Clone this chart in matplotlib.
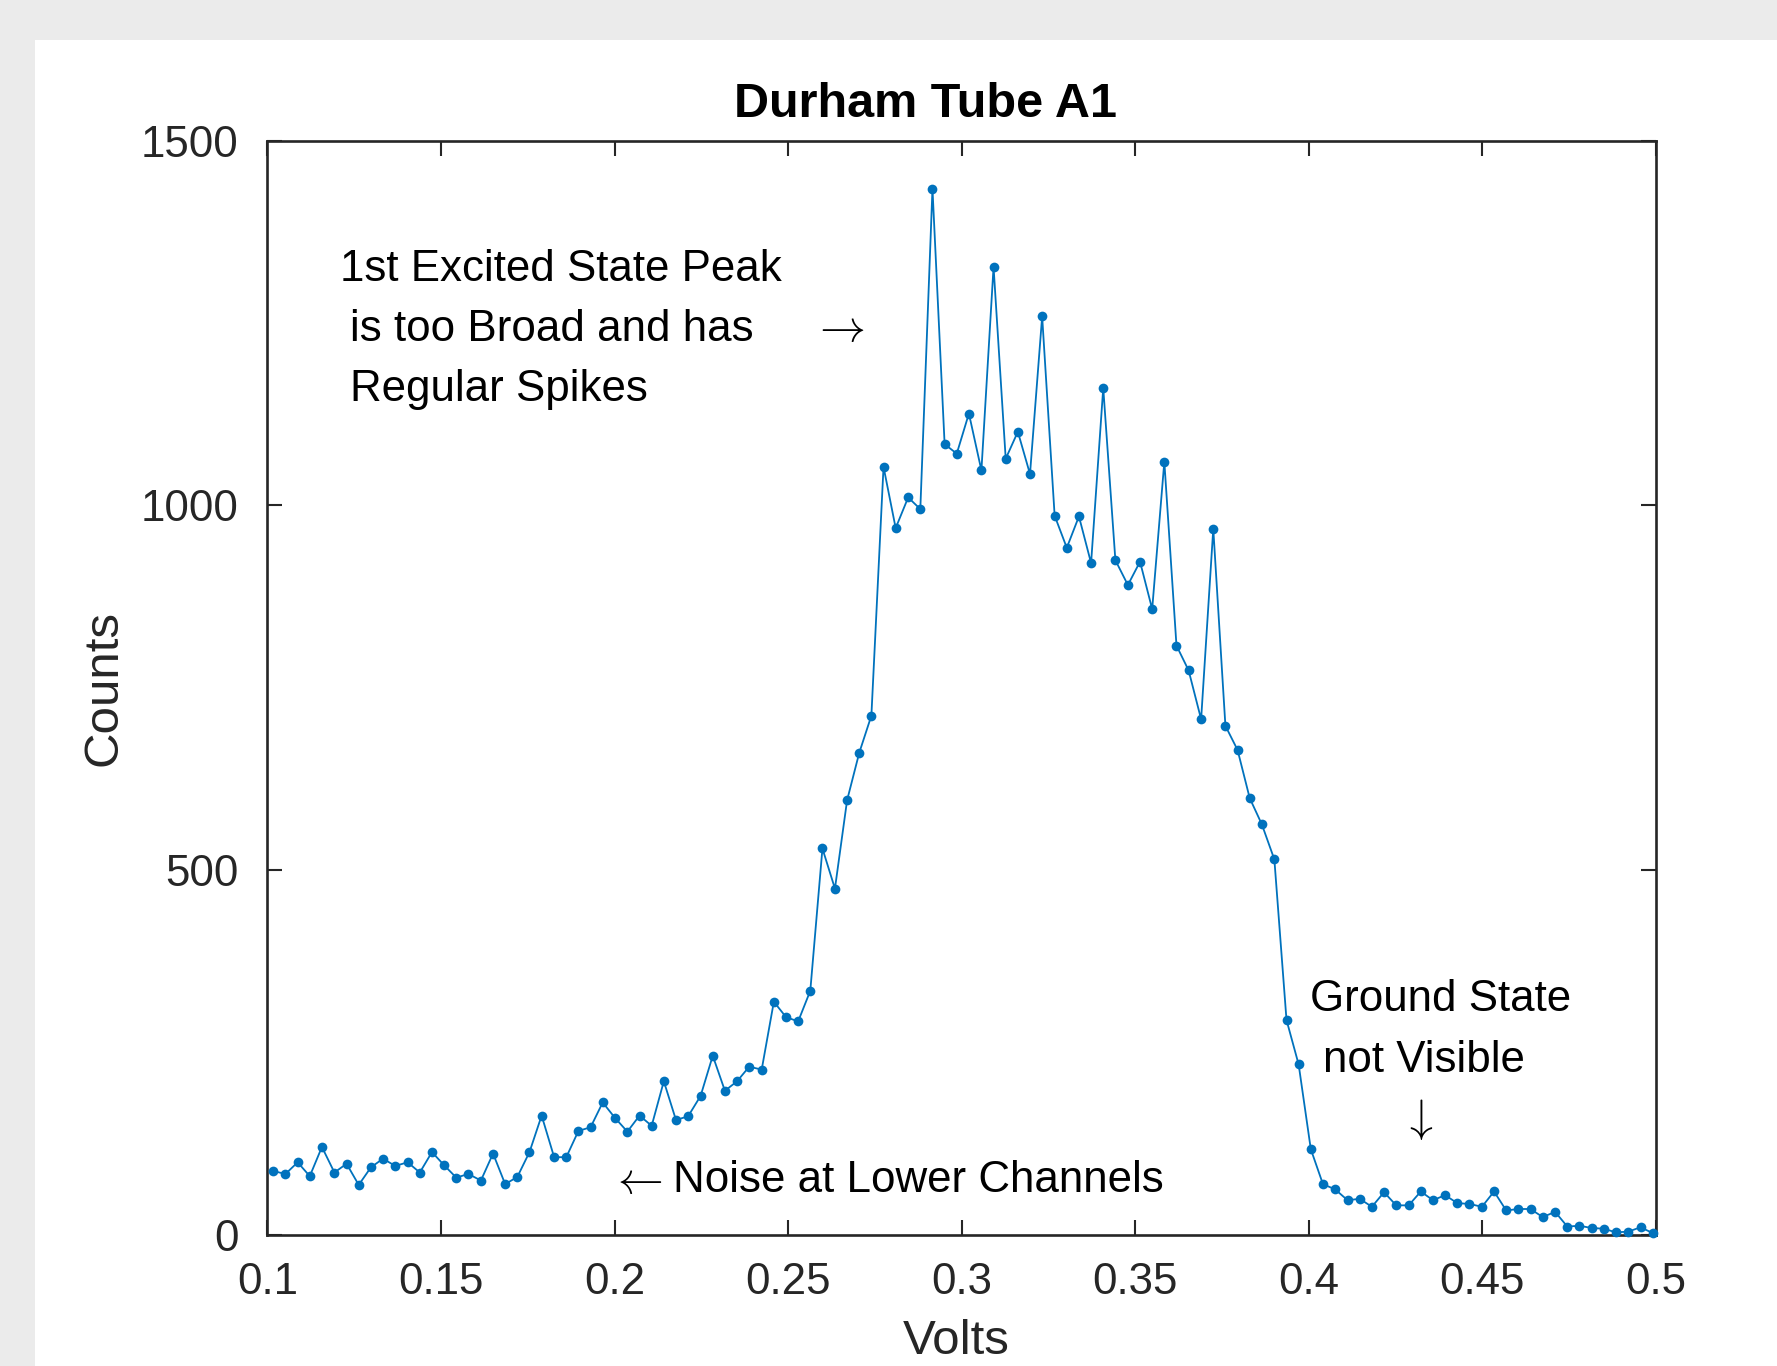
import matplotlib
matplotlib.use("Agg")
import matplotlib.pyplot as plt
from matplotlib.patches import Rectangle

# data (channel voltage vs counts)
volts = [
    0.1017, 0.1052, 0.1087, 0.1122, 0.1157, 0.1193, 0.1228, 0.1263, 0.1298, 0.1333,
    0.1368, 0.1404, 0.1439, 0.1474, 0.1509, 0.1544, 0.1579, 0.1615, 0.1650, 0.1685,
    0.1720, 0.1755, 0.1790, 0.1826, 0.1861, 0.1896, 0.1931, 0.1966, 0.2001, 0.2037,
    0.2072, 0.2107, 0.2142, 0.2177, 0.2212, 0.2248, 0.2283, 0.2318, 0.2353, 0.2388,
    0.2424, 0.2459, 0.2494, 0.2529, 0.2564, 0.2599, 0.2635, 0.2670, 0.2705, 0.2740,
    0.2775, 0.2810, 0.2846, 0.2881, 0.2916, 0.2951, 0.2986, 0.3021, 0.3057, 0.3092,
    0.3127, 0.3162, 0.3197, 0.3232, 0.3268, 0.3303, 0.3338, 0.3373, 0.3408, 0.3443,
    0.3479, 0.3514, 0.3549, 0.3584, 0.3619, 0.3654, 0.3690, 0.3725, 0.3760, 0.3795,
    0.3830, 0.3865, 0.3901, 0.3936, 0.3971, 0.4006, 0.4041, 0.4076, 0.4112, 0.4147,
    0.4182, 0.4217, 0.4252, 0.4288, 0.4323, 0.4358, 0.4393, 0.4428, 0.4463, 0.4499,
    0.4534, 0.4569, 0.4604, 0.4639, 0.4674, 0.4710, 0.4745, 0.4780, 0.4815, 0.4850,
    0.4885, 0.4921, 0.4956, 0.4991,
]
counts = [
    88, 84, 100, 81, 121, 86, 98, 69, 93, 105,
    95, 100, 86, 114, 96, 79, 84, 75, 112, 70,
    80, 114, 164, 107, 107, 143, 148, 182, 161, 142,
    164, 150, 211, 158, 163, 191, 246, 198, 211, 231,
    227, 320, 299, 293, 335, 530, 475, 596, 661, 712,
    1053, 969, 1011, 995, 1434, 1084, 1071, 1126, 1048, 1327,
    1064, 1101, 1043, 1259, 986, 942, 985, 921, 1161, 925,
    891, 923, 858, 1060, 808, 774, 707, 968, 698, 665,
    599, 563, 515, 295, 234, 118, 70, 63, 48, 50,
    39, 59, 41, 41, 60, 48, 55, 44, 43, 39,
    60, 34, 36, 36, 25, 32, 12, 13, 10, 9,
    4, 5, 11, 3,
]

x_ticks = [0.1, 0.15, 0.2, 0.25, 0.3, 0.35, 0.4, 0.45, 0.5]
x_tick_labels = ["0.1", "0.15", "0.2", "0.25", "0.3", "0.35", "0.4", "0.45", "0.5"]
y_ticks = [0, 500, 1000, 1500]
y_tick_labels = ["0", "500", "1000", "1500"]

plt.rcParams["font.family"] = ["Liberation Sans", "DejaVu Sans"]
plt.rcParams["mathtext.fontset"] = "cm"

ink = "#262626"
blue = "#0072BD"

fig = plt.figure(figsize=(17.77, 13.66), dpi=100)
fig.patch.set_facecolor("#EBEBEB")
# white panel inside the grey frame
fig.patches.append(Rectangle((35 / 1777, 0), 1, 1 - 40 / 1366, transform=fig.transFigure,
                             facecolor="white", edgecolor="none", zorder=-10))

ax = fig.add_axes([0.1505, 0.0957, 0.7813, 0.8014])
ax.set_facecolor("white")

ax.plot(volts, counts, "-o", color=blue, lw=1.3, ms=7, mew=0, clip_on=False, zorder=3)

ax.set_xlim(0.1, 0.5)
ax.set_ylim(0, 1500)
ax.set_xticks(x_ticks)
ax.set_xticklabels(x_tick_labels)
ax.set_yticks(y_ticks)
ax.set_yticklabels(y_tick_labels)

for s in ax.spines.values():
    s.set_color(ink)
    s.set_linewidth(1.9)
ax.tick_params(axis="both", direction="in", length=10.5, width=1.5, color=ink,
               labelcolor=ink, labelsize=31.6, top=True, right=True)
ax.tick_params(axis="x", pad=19)
ax.tick_params(axis="y", pad=21)

ax.set_xlabel("Volts", fontsize=35.5, color=ink, va="center")
ax.xaxis.set_label_coords(0.496, -0.097)
ax.set_ylabel("Counts", fontsize=35.5, color=ink, va="center")
ax.yaxis.set_label_coords(-0.118, 0.5)

ax.text(0.474, 1.033, "Durham Tube A1", transform=ax.transAxes, ha="center", va="center",
        fontsize=35, fontweight="bold", color="black")

# annotations
ann = dict(fontsize=31.6, color="black", va="center", ha="left")
ax.text(0.1209, 1323, "1st Excited State Peak", **ann)
ax.text(0.1238, 1241, "is too Broad and has", **ann)
ax.text(0.1238, 1159, "Regular Spikes", **ann)
ax.text(0.2644, 1242, r"$\rightarrow$", fontsize=33, ha="center", va="center")

ax.text(0.4004, 323, "Ground State", **ann)
ax.text(0.4040, 240, "not Visible", **ann)
ax.text(0.4311, 158, r"$\downarrow$", fontsize=33, ha="center", va="center")

ax.text(0.2062, 75, r"$\leftarrow$", fontsize=33, ha="center", va="center")
ax.text(0.2168, 75, "Noise at Lower Channels", **ann)

fig.savefig("out.png", dpi=100, facecolor=fig.get_facecolor())
